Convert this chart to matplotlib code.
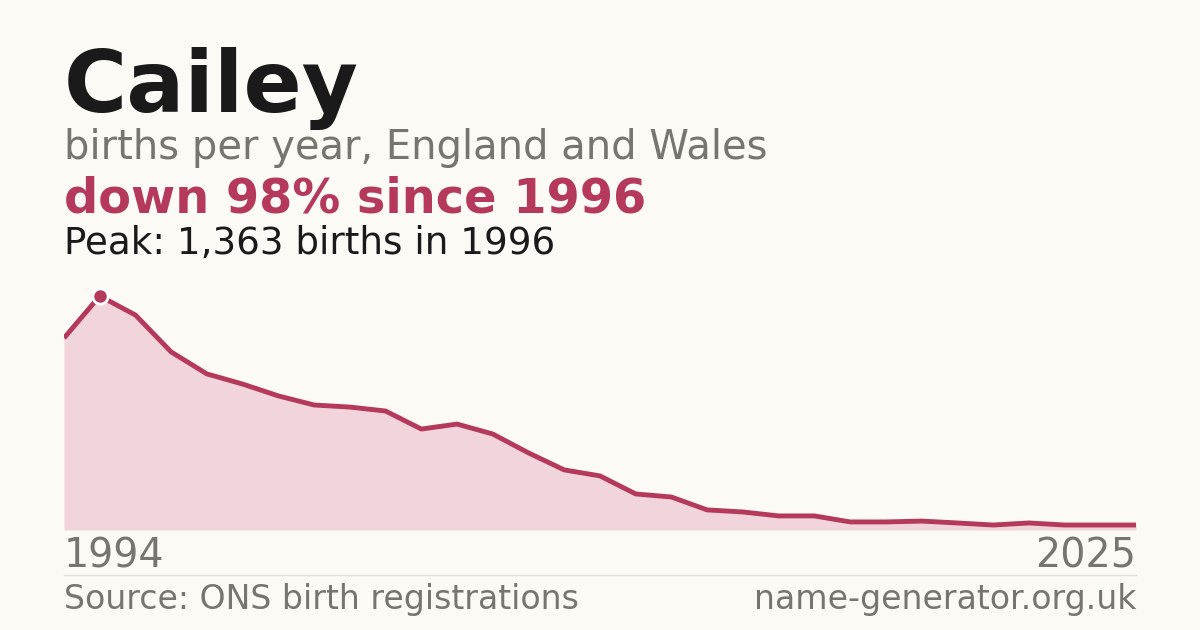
import matplotlib
matplotlib.use("Agg")
import matplotlib.pyplot as plt

years = list(range(1995, 2026))
births = [1118, 1363, 1252, 1037, 909, 850, 781, 728, 716, 693, 588, 617, 559, 449, 350, 315,
          210, 192, 117, 105, 82, 82, 47, 47, 52, 41, 29, 41, 29, 29, 29]
end_labels = ["1994", "2025"]
title = "Cailey"
subtitle = "births per year, England and Wales"
headline = "down 98% since 1996"
peak_text = "Peak: 1,363 births in 1996"
source = "Source: ONS birth registrations"
site = "name-generator.org.uk"

bg = "#fbfaf5"
red = "#b5395a"
fig = plt.figure(figsize=(12, 6.3), dpi=100, facecolor=bg)
ax = fig.add_axes([64/1200, 100/630, 1072/1200, 250/630])
ax.set_facecolor(bg)
ax.fill_between(years, births, 0, color="#f2d5db", lw=0)
ax.plot(years, births, color=red, lw=3.5, solid_capstyle="butt")
pi = births.index(max(births))
ax.plot(years[pi], births[pi], "o", ms=11, color=red, mec="white", mew=2, zorder=5)
ax.set_xlim(years[0], years[-1])
ax.set_ylim(0, max(births) * 250 / 234)
ax.axis("off")

fig.text(64/1200, 1 - 88/630, title, fontsize=62, fontweight="bold", color="#1a1a1a", va="center")
fig.text(64/1200, 1 - 148/630, subtitle, fontsize=28.8, color="#777570", va="center")
fig.text(64/1200, 1 - 199/630, headline, fontsize=34.5, fontweight="bold", color=red, va="center")
fig.text(64/1200, 1 - 243/630, peak_text, fontsize=26.8, color="#1a1a1a", va="center")
fig.text(64/1200, 1 - 557/630, end_labels[0], fontsize=28.5, color="#777570", va="center")
fig.text(1136/1200, 1 - 557/630, end_labels[1], fontsize=28.5, color="#777570", va="center", ha="right")
fig.add_artist(plt.Line2D([64/1200, 1136/1200], [1 - 575/630] * 2, color="#e2e0da", lw=1))
fig.text(64/1200, 1 - 600/630, source, fontsize=23.9, color="#777570", va="center")
fig.text(1136/1200, 1 - 600/630, site, fontsize=23.9, color="#777570", va="center", ha="right")
fig.savefig("out.png", facecolor=bg)
